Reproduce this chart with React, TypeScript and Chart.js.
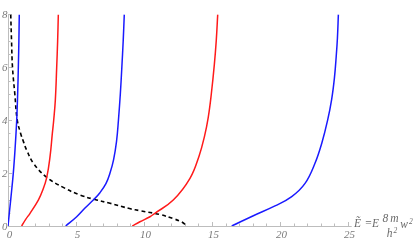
import React, { useEffect, useRef } from "react";
import { Chart, registerables } from "chart.js";

Chart.register(...registerables);

// ---- data ----
const xTicksMajor = [0, 5, 10, 15, 20, 25];
const yTicksMajor = [0, 2, 4, 6, 8];
const xTickLabels = ["0", "5", "10", "15", "20", "25"];
const yTickLabels = ["0", "2", "4", "6", "8"];

const blue1X = [0, 0.2, 0.39, 0.53, 0.64, 0.71, 0.76, 0.8, 0.83];
const blue1Y = [0, 1, 2, 3, 4, 5, 6, 7, 8];

const red1X = [1.0, 1.3, 1.62, 2.23, 2.55, 2.85, 3.09, 3.26, 3.36, 3.48, 3.58, 3.65, 3.7];
const red1Y = [0, 0.25, 0.48, 0.98, 1.35, 1.84, 2.62, 3.5, 4.0, 4.76, 6, 7, 8];

const blue2X = [4.24, 5.05, 5.7, 6.27, 6.76, 7.2, 7.5, 7.76, 7.98, 8.12, 8.26, 8.37, 8.47, 8.55];
const blue2Y = [0, 0.35, 0.7, 0.98, 1.26, 1.6, 2.0, 2.5, 3.2, 4.0, 5, 6, 7, 8];

const red2X = [9.14, 9.7, 10.44, 10.8, 12.15, 13.38, 14.05, 14.45, 14.72, 14.95, 15.17, 15.31, 15.42];
const red2Y = [0, 0.16, 0.35, 0.48, 0.98, 1.8, 2.65, 3.4, 4.1, 5.0, 6.1, 7.0, 8];

const blue3X = [16.45, 18.0, 19.63, 20.86, 21.84, 22.57, 23.07, 23.5, 23.8, 24.0, 24.13, 24.22, 24.29];
const blue3Y = [0, 0.38, 0.76, 1.11, 1.61, 2.37, 3.13, 4.0, 4.8, 5.6, 6.4, 7.1, 8];

const dashX = [0.2, 0.26, 0.33, 0.5, 0.68, 0.93, 1.13, 1.37, 1.9, 2.85, 4.1, 5.3, 6.4, 7.5, 9.0, 9.7, 11.2, 12.15, 12.77, 12.95, 13.07];
const dashY = [8, 7, 6, 5, 4, 3.5, 3.2, 2.87, 2.35, 1.84, 1.45, 1.17, 1.0, 0.86, 0.65, 0.58, 0.43, 0.28, 0.155, 0.09, 0];

const X_MAX = 25.27;
const Y_MAX = 8;

function pts(xs: number[], ys: number[]) {
  return xs.map((x, i) => ({ x, y: ys[i] }));
}

const axesPlugin = {
  id: "mmaAxes",
  beforeDatasetsDraw(chart: any) {
    const ctx = chart.ctx;
    const xs = chart.scales.x;
    const ys = chart.scales.y;
    const x0 = xs.getPixelForValue(0);
    const y0 = ys.getPixelForValue(0);
    const xEnd = xs.getPixelForValue(X_MAX);
    const yEnd = ys.getPixelForValue(Y_MAX);
    ctx.save();
    ctx.strokeStyle = "#bdbdbd";
    ctx.lineWidth = 1;
    ctx.beginPath();
    ctx.moveTo(x0, y0 + 0.5);
    ctx.lineTo(xEnd, y0 + 0.5);
    ctx.moveTo(x0 + 0.5, y0);
    ctx.lineTo(x0 + 0.5, yEnd);
    ctx.stroke();
    ctx.beginPath();
    for (let v = 0; v <= 25; v += 1) {
      const p = Math.round(xs.getPixelForValue(v)) + 0.5;
      const len = v % 5 === 0 ? 4 : 2.5;
      ctx.moveTo(p, y0);
      ctx.lineTo(p, y0 - len);
    }
    for (let v = 0; v <= 8; v += 0.5) {
      const p = Math.round(ys.getPixelForValue(v)) + 0.5;
      const len = v % 2 === 0 ? 4 : 2.5;
      ctx.moveTo(x0, p);
      ctx.lineTo(x0 + len, p);
    }
    ctx.stroke();
    ctx.restore();
  },
  afterDraw(chart: any) {
    const ctx = chart.ctx;
    const xs = chart.scales.x;
    const ys = chart.scales.y;
    const y0 = ys.getPixelForValue(0);
    ctx.save();
    ctx.fillStyle = "#7a7a7a";
    ctx.font = "italic 11px 'Liberation Serif'";
    ctx.textBaseline = "alphabetic";
    ctx.textAlign = "center";
    xTicksMajor.forEach((v, i) => {
      ctx.fillText(xTickLabels[i], xs.getPixelForValue(v) + 1.5, y0 + 11.5);
    });
    ctx.textAlign = "right";
    yTicksMajor.forEach((v, i) => {
      ctx.fillText(yTickLabels[i], 7.5, ys.getPixelForValue(v) + 4);
    });
    // axis title  E~ = E (8 m / h^2) w^2
    ctx.fillStyle = "#6a6a6a";
    ctx.textAlign = "left";
    ctx.font = "italic 11.5px 'Liberation Serif'";
    const base = y0 + 1;
    ctx.fillText("\u1EBC", 354, base);
    ctx.fillText("=", 364.6, base);
    ctx.fillText("E", 372, base);
    ctx.fillText("8", 382.5, base - 5);
    ctx.fillText("m", 390.3, base - 5);
    ctx.fillText("h", 386.8, base + 10);
    ctx.fillText("w", 400.3, base + 1);
    ctx.font = "italic 7.5px 'Liberation Serif'";
    ctx.fillText("2", 393.5, base + 5.5);
    ctx.fillText("2", 409, base - 3.5);
    ctx.restore();
  },
};

export default function App() {
  const ref = useRef<HTMLCanvasElement | null>(null);
  useEffect(() => {
    if (!ref.current) return;
    const line = (xs: number[], ys: number[], color: string, dash?: number[]) => ({
      data: pts(xs, ys),
      borderColor: color,
      borderWidth: dash ? 1.6 : 1.5,
      borderDash: dash || [],
      showLine: true,
      pointRadius: 0,
      tension: 0.4,
      fill: false,
    });
    const chart = new Chart(ref.current, {
      type: "scatter",
      data: {
        datasets: [
          line(blue1X, blue1Y, "#1a1aff"),
          line(red1X, red1Y, "#ff1a1a"),
          line(blue2X, blue2Y, "#1a1aff"),
          line(red2X, red2Y, "#ff1a1a"),
          line(blue3X, blue3Y, "#1a1aff"),
          line(dashX, dashY, "#000000", [4, 3]),
        ] as any,
      },
      options: {
        animation: false,
        responsive: false,
        devicePixelRatio: 1,
        layout: { padding: { left: 8, right: 63.3, top: 14.4, bottom: 15 } },
        plugins: { legend: { display: false }, tooltip: { enabled: false } },
        scales: {
          x: { type: "linear", min: 0, max: X_MAX, display: false },
          y: { type: "linear", min: 0, max: Y_MAX, display: false },
        },
      },
      plugins: [axesPlugin],
    });
    return () => chart.destroy();
  }, []);
  return (
    <div style={{ position: "fixed", left: 0, top: 0, width: 415, height: 241, background: "#fff" }}>
      <canvas ref={ref} width={415} height={241} style={{ display: "block" }} />
    </div>
  );
}
